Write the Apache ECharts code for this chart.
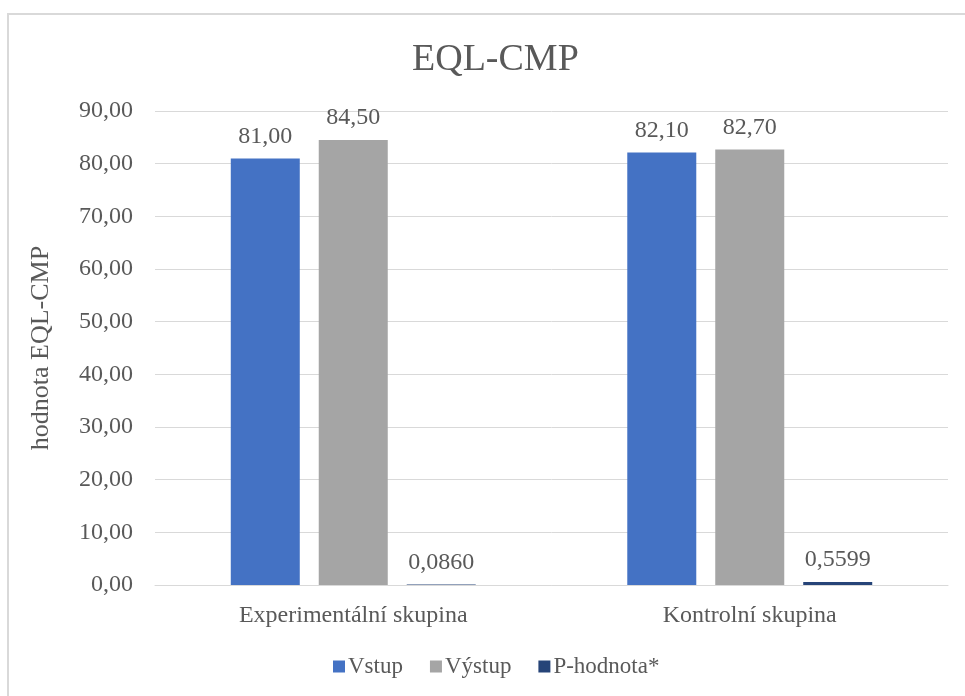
<!DOCTYPE html>
<html><head><meta charset="utf-8">
<script src="https://cdn.jsdelivr.net/npm/echarts@6/dist/echarts.min.js"></script>
<style>html,body{margin:0;padding:0;background:#fff}#c{width:965px;height:696px}</style>
</head><body><div id="c"></div>
<script>
const categories = ['Experimentální skupina', 'Kontrolní skupina'];
const vstup = [81.00, 82.10];
const vystup = [84.50, 82.70];
const pHodnota = [0.0860, 0.5599];
const seriesNames = ['Vstup', 'Výstup', 'P-hodnota*'];
const yMin = 0, yMax = 90, yStep = 10;

const FONT = '"Liberation Serif","Times New Roman",serif';
const TXT = '#595959';
const chart = echarts.init(document.getElementById('c'));
const fmt2 = v => v.toFixed(2).replace('.', ',');
const fmt4 = v => v.toFixed(4).replace('.', ',');
const lbl = (f) => ({show: true, position: 'top', distance: 10, color: TXT, fontFamily: FONT, fontSize: 24, formatter: p => f(p.value)});
chart.setOption({
  animation: false,
  textStyle: {fontFamily: FONT},
  graphic: [{type: 'rect', shape: {x: 8, y: 14, width: 1000, height: 1000}, style: {fill: 'none', stroke: '#d9d9d9', lineWidth: 2}, silent: true}],
  title: {text: 'EQL-CMP', left: 407, top: 36, textStyle: {fontFamily: FONT, fontSize: 38, fontWeight: 'normal', color: TXT}},
  legend: {data: seriesNames, left: 333, top: 655, padding: 0, icon: 'rect', itemWidth: 12, itemHeight: 12, itemGap: 27,
    textStyle: {fontFamily: FONT, fontSize: 23, color: TXT, padding: [0, 0, 0, -2]}},
  grid: {left: 155, right: 17, top: 111, bottom: 111, containLabel: false},
  xAxis: {type: 'category', data: categories,
    axisLine: {lineStyle: {color: '#d9d9d9', width: 1}}, axisTick: {show: false},
    axisLabel: {color: TXT, fontFamily: FONT, fontSize: 24, margin: 19}},
  yAxis: {type: 'value', min: yMin, max: yMax, interval: yStep,
    name: 'hodnota EQL-CMP', nameLocation: 'middle', nameGap: 101, nameRotate: 90,
    nameTextStyle: {color: TXT, fontFamily: FONT, fontSize: 26},
    axisLine: {show: false}, axisTick: {show: false},
    splitLine: {lineStyle: {color: '#d9d9d9', width: 1}},
    axisLabel: {color: TXT, fontFamily: FONT, fontSize: 24, margin: 22, formatter: v => fmt2(v)}},
  series: [
    {name: seriesNames[0], type: 'bar', data: vstup, itemStyle: {color: '#4472C4'}, barWidth: 69, barGap: '27.5%', label: lbl(fmt2)},
    {name: seriesNames[1], type: 'bar', data: vystup, itemStyle: {color: '#A5A5A5'}, barWidth: 69, barGap: '27.5%', label: lbl(fmt2)},
    {name: seriesNames[2], type: 'bar', data: pHodnota, itemStyle: {color: '#264478'}, barWidth: 69, barGap: '27.5%', label: lbl(fmt4)}
  ]
});
</script></body></html>
